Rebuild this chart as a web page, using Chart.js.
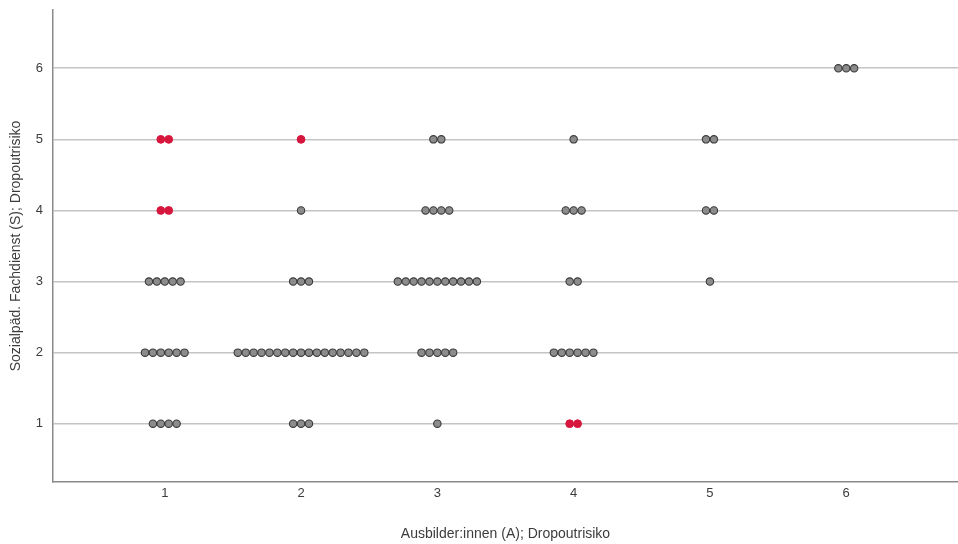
<!DOCTYPE html>
<html>
<head>
<meta charset="utf-8">
<script src="https://cdn.jsdelivr.net/npm/chart.js@4/dist/chart.umd.min.js"></script>
<style>
    html, body { margin: 0; padding: 0; background: #ffffff; }
    #wrap { width: 958px; height: 544px; position: relative; }
</style>
</head>
<body>
<div id="wrap"><canvas id="dotplot"></canvas></div>
<script>
// ============================================================================
// Data: number of cases per cell (x = Ausbilder:innen, y = Sozialpäd. Fachdienst)
// index of each array = y level 1..6
// ============================================================================

const xLevels = [1, 2, 3, 4, 5, 6];
const yLevels = [1, 2, 3, 4, 5, 6];

const countsX1 = [4, 6, 5, 2, 2, 0];
const countsX2 = [3, 17, 3, 1, 1, 0];
const countsX3 = [1, 5, 11, 4, 2, 0];
const countsX4 = [2, 6, 2, 3, 1, 0];
const countsX5 = [0, 0, 1, 2, 2, 0];
const countsX6 = [0, 0, 0, 0, 0, 3];

// cells drawn in red: [x, y]
const highlightCells = [[1, 4], [1, 5], [2, 5], [4, 1]];

const xTitle = 'Ausbilder:innen (A); Dropoutrisiko';
const yTitle = 'Sozialpäd. Fachdienst (S); Dropoutrisiko';

// ============================================================================
// Build stacked dot positions (dots spread sideways around the category)
// ============================================================================

const DOT_STEP = 0.058;
const allCounts = [countsX1, countsX2, countsX3, countsX4, countsX5, countsX6];

const grayPoints = [];
const redPoints = [];

xLevels.forEach((x, xi) => {
    yLevels.forEach((y, yi) => {
        const n = allCounts[xi][yi];
        const isRed = highlightCells.some(([hx, hy]) => hx === x && hy === y);
        for (let i = 0; i < n; i++) {
            const pt = { x: x + (i - (n - 1) / 2) * DOT_STEP, y };
            (isRed ? redPoints : grayPoints).push(pt);
        }
    });
});

const FONT = "'Liberation Sans', Arial, sans-serif";
const TEXT = '#3c3c3c';

new Chart(document.getElementById('dotplot'), {
    type: 'scatter',
    data: {
        datasets: [
            {
                data: grayPoints,
                backgroundColor: '#8c8c8c',
                borderColor: '#3a3a3a',
                borderWidth: 1.1,
                pointRadius: 3.7,
                pointHoverRadius: 3.7
            },
            {
                data: redPoints,
                backgroundColor: '#d6163c',
                borderColor: '#d6163c',
                borderWidth: 1,
                pointRadius: 3.9,
                pointHoverRadius: 3.9
            }
        ]
    },
    options: {
        responsive: true,
        maintainAspectRatio: false,
        animation: false,
        layout: { autoPadding: false, padding: { top: 10, right: 0, left: 0, bottom: 0 } },
        plugins: {
            legend: { display: false },
            tooltip: { enabled: false }
        },
        scales: {
            x: {
                type: 'linear',
                min: 0.18,
                max: 6.82,
                afterBuildTicks: s => { s.ticks = xLevels.map(v => ({ value: v })); },
                afterFit: s => { s.height = 62; s.paddingLeft = 0; s.paddingRight = 0; },
                grid: { display: false, drawTicks: false },
                border: { display: true, color: '#8a8a8a', width: 1.5 },
                ticks: {
                    padding: 4,
                    color: TEXT,
                    font: { family: FONT, size: 13 }
                },
                title: {
                    display: true,
                    text: xTitle,
                    color: TEXT,
                    font: { family: FONT, size: 14 },
                    padding: { top: 0, bottom: 1 }
                }
            },
            y: {
                type: 'linear',
                min: 0.18,
                max: 6.82,
                afterBuildTicks: s => { s.ticks = yLevels.map(v => ({ value: v })); },
                afterFit: s => { s.width = 53; s.paddingTop = 0; s.paddingBottom = 0; },
                grid: { display: true, drawTicks: false, color: '#c4c4c4', lineWidth: 1.6 },
                border: { display: true, color: '#8a8a8a', width: 1.5 },
                ticks: {
                    padding: 10,
                    color: TEXT,
                    font: { family: FONT, size: 13 }
                },
                title: {
                    display: true,
                    text: yTitle,
                    color: TEXT,
                    font: { family: FONT, size: 14 },
                    padding: { top: 8, bottom: 0 }
                }
            }
        }
    }
});
</script>
</body>
</html>
